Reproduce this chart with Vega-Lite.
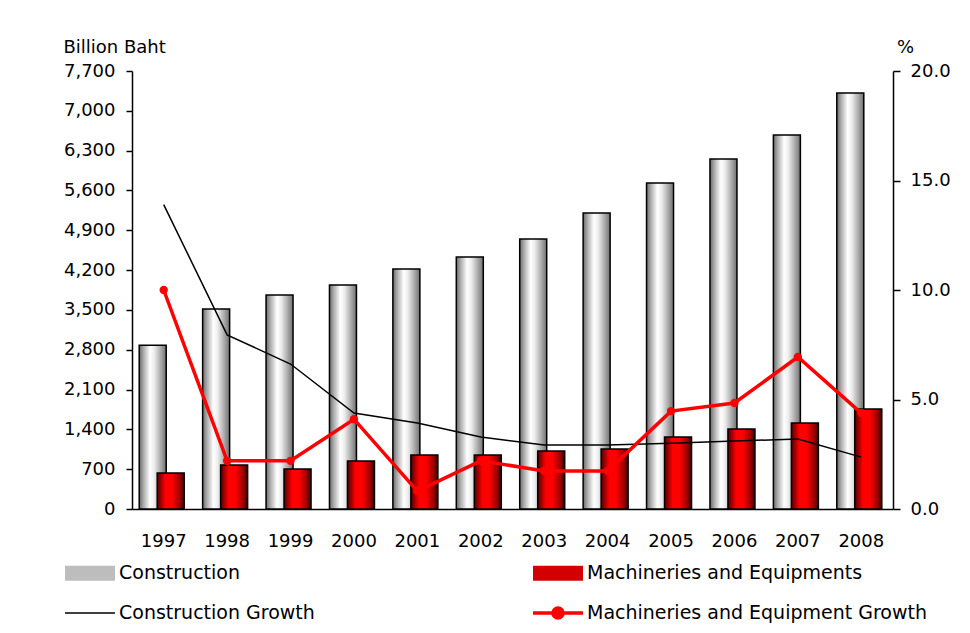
{
  "$schema": "https://vega.github.io/schema/vega-lite/v6.json",
  "width": 761,
  "height": 438,
  "autosize": {"type": "none"},
  "padding": {"left": 132, "top": 71, "right": 77, "bottom": 124},
  "background": "white",
  "config": {
    "view": {"stroke": null},
    "font": "DejaVu Sans",
    "axis": {"labelFont": "DejaVu Sans", "labelFontSize": 18, "labelColor": "black", "titleFont": "DejaVu Sans", "titleFontSize": 18, "titleFontWeight": "normal", "titleColor": "black", "grid": false, "domainColor": "black", "domainWidth": 1.5, "tickColor": "black", "tickWidth": 1.5}
  },
  "data": {
    "values": [
      {"year": "1997", "construction": 2880, "machinery": 633, "cgrowth": 13.9, "mgrowth": 10.0},
      {"year": "1998", "construction": 3516, "machinery": 774, "cgrowth": 7.95, "mgrowth": 2.2},
      {"year": "1999", "construction": 3762, "machinery": 703, "cgrowth": 6.62, "mgrowth": 2.2},
      {"year": "2000", "construction": 3938, "machinery": 844, "cgrowth": 4.38, "mgrowth": 4.1},
      {"year": "2001", "construction": 4219, "machinery": 949, "cgrowth": 3.93, "mgrowth": 0.82},
      {"year": "2002", "construction": 4430, "machinery": 949, "cgrowth": 3.29, "mgrowth": 2.2},
      {"year": "2003", "construction": 4747, "machinery": 1020, "cgrowth": 2.92, "mgrowth": 1.74},
      {"year": "2004", "construction": 5204, "machinery": 1055, "cgrowth": 2.92, "mgrowth": 1.74},
      {"year": "2005", "construction": 5731, "machinery": 1266, "cgrowth": 3.0, "mgrowth": 4.47},
      {"year": "2006", "construction": 6153, "machinery": 1406, "cgrowth": 3.1, "mgrowth": 4.84},
      {"year": "2007", "construction": 6575, "machinery": 1512, "cgrowth": 3.2, "mgrowth": 6.94},
      {"year": "2008", "construction": 7314, "machinery": 1758, "cgrowth": 2.37, "mgrowth": 4.38}
    ]
  },
  "encoding": {
    "x": {
      "field": "year", "type": "ordinal", "title": null,
      "scale": {"paddingInner": 0, "paddingOuter": 0},
      "axis": {"labelAngle": 0, "ticks": false, "labelPadding": 23, "domainWidth": 1.5}
    }
  },
  "layer": [
    {
      "layer": [
        {
          "mark": {
            "type": "bar", "width": 27, "xOffset": -11, "stroke": "black", "strokeWidth": 1.5,
            "fill": {"gradient": "linear", "x1": 0, "x2": 1, "y1": 0, "y2": 0,
              "stops": [
                {"offset": 0, "color": "#6a6a6a"},
                {"offset": 0.15, "color": "#a8a8a8"},
                {"offset": 0.4, "color": "#ffffff"},
                {"offset": 0.55, "color": "#eeeeee"},
                {"offset": 0.8, "color": "#aaaaaa"},
                {"offset": 1, "color": "#707070"}
              ]}
          },
          "encoding": {
            "y": {
              "field": "construction", "type": "quantitative",
              "scale": {"domain": [0, 7700], "nice": false},
              "axis": {"orient": "left", "title": "Billion Baht", "values": [0, 700, 1400, 2100, 2800, 3500, 4200, 4900, 5600, 6300, 7000, 7700], "format": ",.0f", "tickSize": 6, "labelPadding": 11, "titleAngle": 0, "titleAlign": "left", "titleBaseline": "middle", "titleX": -69, "titleY": -24}
            }
          }
        },
        {
          "mark": {
            "type": "bar", "width": 27, "xOffset": 7, "stroke": "black", "strokeWidth": 1.5,
            "fill": {"gradient": "linear", "x1": 0, "x2": 1, "y1": 0, "y2": 0,
              "stops": [
                {"offset": 0, "color": "#500000"},
                {"offset": 0.3, "color": "#ff0000"},
                {"offset": 0.55, "color": "#ff0000"},
                {"offset": 0.85, "color": "#990000"},
                {"offset": 1, "color": "#300000"}
              ]}
          },
          "encoding": {
            "y": {
              "field": "machinery", "type": "quantitative",
              "scale": {"domain": [0, 7700], "nice": false},
              "axis": {"orient": "left", "title": "Billion Baht", "values": [0, 700, 1400, 2100, 2800, 3500, 4200, 4900, 5600, 6300, 7000, 7700], "format": ",.0f", "tickSize": 6, "labelPadding": 11, "titleAngle": 0, "titleAlign": "left", "titleBaseline": "middle", "titleX": -69, "titleY": -24}
            }
          }
        }
      ]
    },
    {
      "layer": [
        {
          "mark": {"type": "line", "strokeWidth": 1.5},
          "encoding": {
            "y": {
              "field": "cgrowth", "type": "quantitative",
              "scale": {"domain": [0, 20], "nice": false},
              "axis": {"orient": "right", "title": "%", "values": [0, 5, 10, 15, 20], "format": ".1f", "tickSize": 7, "labelPadding": 10, "titleAngle": 0, "titleAlign": "center", "titleBaseline": "middle", "titleX": 12, "titleY": -24}
            },
            "color": {
              "datum": "Construction Growth",
              "scale": {
                "domain": ["Construction", "Machineries and Equipments", "Construction Growth", "Machineries and Equipment Growth"],
                "range": ["#bdbdbd", "#d40000", "#000000", "#ff0000"]
              },
              "legend": {
                "title": null, "orient": "none", "direction": "horizontal", "legendX": -51.5, "legendY": 492.5, "columns": 2, "columnPadding": 187, "rowPadding": -8, "padding": 0,
                "labelFont": "DejaVu Sans", "labelFontSize": 19, "labelColor": "black", "labelOffset": 19.5, "labelLimit": 400,
                "symbolSize": 12.25,
                "symbolType": {"expr": "datum.value === 'Machineries and Equipment Growth' ? 'M-14.29,0H14.29M-2.86,0A2.86,2.86,0,1,1,2.86,0A2.86,2.86,0,1,1,-2.86,0' : 'M-14.29,0H14.29'"},
                "symbolStrokeWidth": {"expr": "(datum.value === 'Construction' || datum.value === 'Machineries and Equipments') ? 15 : (datum.value === 'Machineries and Equipment Growth' ? 3.5 : 1.5)"}
              }
            }
          }
        },
        {
          "mark": {"type": "line", "strokeWidth": 3.5, "point": {"filled": true, "size": 70}},
          "encoding": {
            "y": {
              "field": "mgrowth", "type": "quantitative",
              "scale": {"domain": [0, 20], "nice": false},
              "axis": {"orient": "right", "title": "%", "values": [0, 5, 10, 15, 20], "format": ".1f", "tickSize": 7, "labelPadding": 10, "titleAngle": 0, "titleAlign": "center", "titleBaseline": "middle", "titleX": 12, "titleY": -24}
            },
            "color": {"datum": "Machineries and Equipment Growth"}
          }
        }
      ]
    }
  ],
  "resolve": {"scale": {"y": "independent"}}
}
